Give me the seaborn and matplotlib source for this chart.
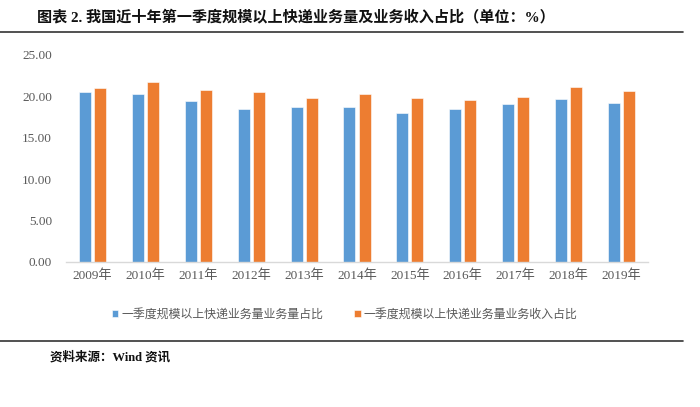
import matplotlib
matplotlib.use("Agg")
import matplotlib.pyplot as plt
import numpy as np
import pandas as pd
import seaborn as sns

# === Данные ===
years = ["2009年", "2010年", "2011年", "2012年", "2013年", "2014年",
         "2015年", "2016年", "2017年", "2018年", "2019年"]
volume_share = [20.55, 20.27, 19.40, 18.43, 18.75, 18.70, 17.95, 18.50, 19.03, 19.64, 19.23]
revenue_share = [21.00, 21.68, 20.76, 20.55, 19.76, 20.30, 19.76, 19.52, 19.95, 21.12, 20.67]
series_names = ["一季度规模以上快递业务量业务量占比", "一季度规模以上快递业务量业务收入占比"]
colors = ["#5B9BD5", "#ED7D31"]

df = pd.DataFrame({
    "year": years * 2,
    "value": volume_share + revenue_share,
    "series": [series_names[0]] * len(years) + [series_names[1]] * len(years),
})

sns.set_style("white")
plt.rcParams["font.family"] = ["Liberation Serif", "Noto Sans CJK SC", "DejaVu Sans"]

fig = plt.figure(figsize=(7, 4.07), dpi=100)
ax = fig.add_axes([0.0943, 0.3563, 0.8314, 0.5093])

sns.barplot(data=df, x="year", y="value", hue="series", palette=colors,
            width=0.57, gap=0.2, saturation=1, edgecolor="white", linewidth=0.4,
            ax=ax, legend=True)

ax.set_ylim(0, 25)
ax.set_yticks(np.arange(0, 25.1, 5))
ax.set_yticklabels([f"{v:.2f}" for v in np.arange(0, 25.1, 5)])
ax.set_xlim(-0.5, len(years) - 0.5)
ax.set_xlabel("")
ax.set_ylabel("")
ax.tick_params(axis="both", length=0, labelsize=9.5, colors="#595959")
ax.tick_params(axis="y", pad=10)
ax.tick_params(axis="x", pad=5)
for s in ["top", "right", "left"]:
    ax.spines[s].set_visible(False)
ax.spines["bottom"].set_color("#d9d9d9")
ax.spines["bottom"].set_linewidth(1)

handles, labels = ax.get_legend_handles_labels()
ax.legend(handles, labels, loc="center", bbox_to_anchor=(0.479, -0.255), ncol=2,
          frameon=False, fontsize=8.6, handlelength=0.55, handleheight=0.55,
          handletextpad=0.25, columnspacing=2.6, labelcolor="#595959")

# Заголовок и источник
fig.text(37 / 700, 1 - 17 / 407, "图表 2. 我国近十年第一季度规模以上快递业务量及业务收入占比（单位：%）",
         fontsize=10.9, fontweight="bold", va="center", ha="left", color="#111111")
fig.add_artist(plt.Line2D([0, 683 / 700], [1 - 32 / 407] * 2, color="#333333", linewidth=1.2))
fig.add_artist(plt.Line2D([0, 683 / 700], [1 - 341 / 407] * 2, color="#333333", linewidth=1.2))
fig.text(50 / 700, 1 - 357 / 407, "资料来源：Wind 资讯", fontsize=9, fontweight="bold",
         va="center", ha="left", color="#111111")

fig.savefig("out.png", dpi=100)
